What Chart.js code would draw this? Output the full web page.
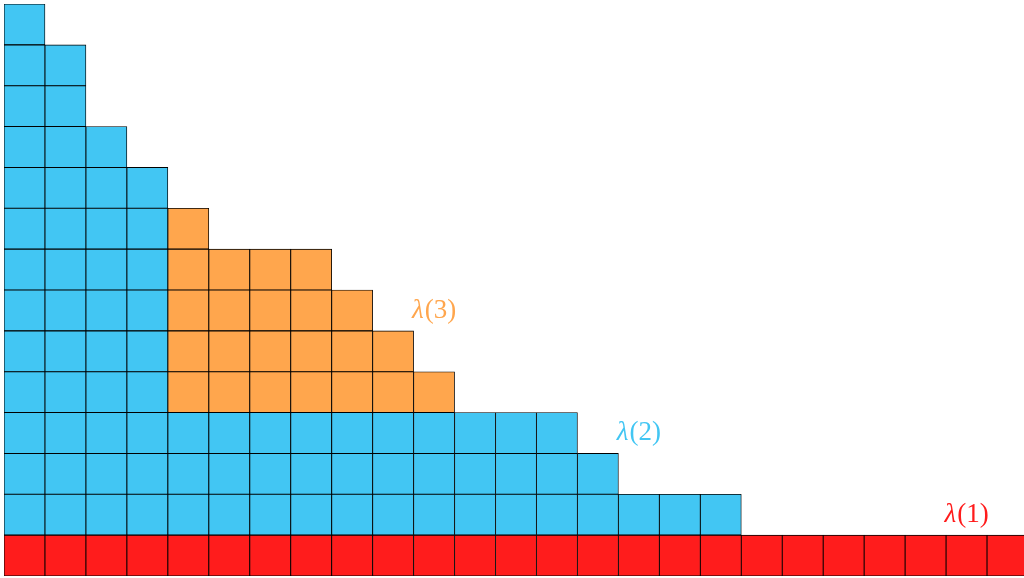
<!DOCTYPE html>
<html>
<head>
<meta charset="utf-8">
<script src="https://cdn.jsdelivr.net/npm/chart.js@4.4.1/dist/chart.umd.min.js"></script>
<style>
html,body{margin:0;padding:0;background:#fff;overflow:hidden;width:1024px;height:578px;}
#wrap{width:1028px;height:578px;}
</style>
</head>
<body>
<div id="wrap"><canvas id="c" width="1028" height="578"></canvas></div>
<script>
// Row lengths (bottom row first)
const lambda1Rows = [25];                                    // red, row 0
const lambda2Rows = [18, 15, 14, 11, 10, 9, 8, 5, 4, 3, 2, 2, 1]; // rows 1..13
const lambda3Rows = [7, 6, 5, 4, 1];                         // orange overlay
const lambda3StartRow = 4;
const lambda3StartCol = 4;
const columnLabels = Array.from({length: 25}, (_, i) => String(i));

const colorRed = '#FF1C1C';
const colorBlue = '#42C6F3';
const colorOrange = '#FFA64D';

const labelTexts = ['1', '2', '3'];
const labelCols = [23, 15, 10];
const labelRows = [1, 3, 6];
const labelColors = [colorRed, colorBlue, colorOrange];

const rowLengths = lambda1Rows.concat(lambda2Rows);

function cellColor(r, c) {
  if (r < lambda1Rows.length) return colorRed;
  const k = r - lambda3StartRow;
  if (k >= 0 && k < lambda3Rows.length && c >= lambda3StartCol && c < lambda3StartCol + lambda3Rows[k]) return colorOrange;
  return colorBlue;
}

const datasets = rowLengths.map((len, r) => ({
  data: columnLabels.map((_, c) => c < len ? [r, r + 1] : null),
  backgroundColor: columnLabels.map((_, c) => cellColor(r, c)),
  borderColor: '#000',
  borderWidth: 0.85,
  borderSkipped: false,
  grouped: false,
  categoryPercentage: 1,
  barPercentage: 1
}));

const labelPlugin = {
  id: 'lambdaLabels',
  afterDatasetsDraw(chart) {
    const ctx = chart.ctx;
    const xs = chart.scales.x, ys = chart.scales.y;
    ctx.save();
    ctx.textBaseline = 'middle';
    labelTexts.forEach((t, i) => {
      const cx = xs.getPixelForValue(labelCols[i]);
      const cy = ys.getPixelForValue(labelRows[i] + 0.5);
      ctx.fillStyle = labelColors[i];
      const f1 = 'italic 27px "Liberation Serif"';
      const f2 = '27px "Liberation Serif"';
      ctx.font = f1; const w1 = ctx.measureText('λ').width;
      ctx.font = f2; const w2 = ctx.measureText('(' + t + ')').width;
      const x0 = cx - (w1 + w2 + 1) / 2;
      ctx.font = f1; ctx.textAlign = 'left'; ctx.fillText('λ', x0, cy);
      ctx.font = f2; ctx.fillText('(' + t + ')', x0 + w1 + 1, cy);
    });
    ctx.restore();
  }
};

new Chart(document.getElementById('c'), {
  type: 'bar',
  data: { labels: columnLabels, datasets },
  options: {
    responsive: false,
    animation: false,
    devicePixelRatio: 1,
    layout: { padding: { left: 4, top: 4, right: 0, bottom: 2 } },
    plugins: { legend: { display: false }, tooltip: { enabled: false } },
    scales: {
      x: { display: false, offset: true, grid: { display: false } },
      y: { display: false, min: 0, max: 14, grid: { display: false } }
    }
  },
  plugins: [labelPlugin]
});
</script>
</body>
</html>
